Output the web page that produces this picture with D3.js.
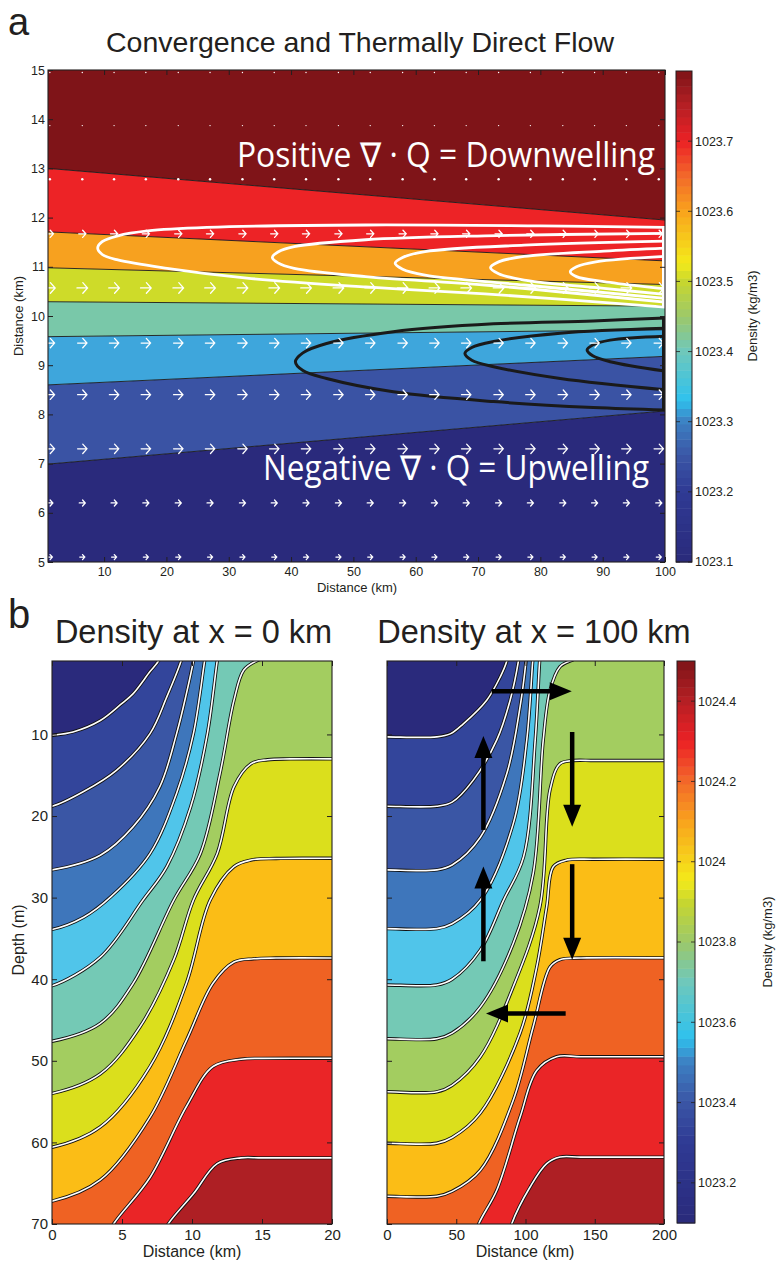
<!DOCTYPE html>
<html><head><meta charset="utf-8">
<script src="https://cdn.jsdelivr.net/npm/d3@7"></script>
<style>body{margin:0;background:#fff}svg text{font-family:"Liberation Sans",Arial,sans-serif}</style>
</head><body><svg id="c" width="782" height="1262"></svg>
<script>
// ---------------- DATA ----------------
// Panel a: band boundaries (km) at x=1 km and x=100 km, bottom to top
const aBoundLeft  = [6.99, 8.60, 9.58, 10.29, 10.98, 11.71, 13.00];
const aBoundRight = [8.07, 9.18, 9.72, 10.20, 10.64, 11.12, 11.95];
const aBandColors = ["#2a2a7c","#3a53a4","#3ea6dc","#79c8a9","#cedb29","#f7a11f","#ed2326","#7f1418"];
// quiver grid
const aQuiverX = [1.3,6.5,11.6,16.7,21.9,27.0,32.2,37.3,42.4,47.6,52.7,57.9,63.0,68.1,73.3,78.4,83.6,88.7,93.8,99.0];
const aQuiverY = [5.1,6.2,7.3,8.4,9.45,10.57,11.67,12.78,13.87,14.95];
const aQuiverU = [0.8,0.96,1.5,1.5,1.5,1.7,1.15,0.15,0.04,0.04];
// convergence streamlines (white) and divergence streamlines (black), [x km, y km]
const aWhiteCurves = [
  [[100,11.80],[80,11.83],[52,11.85],[26.5,11.80],[17,11.73],[12.2,11.63],[9.7,11.51],[8.97,11.38],[9.7,11.25],[12.2,11.14],[20.1,10.97],[32.9,10.77],[52,10.59],[71.1,10.45],[100,10.18]],
  [[100,11.68],[71.1,11.63],[52,11.55],[40.5,11.41],[37.9,11.30],[37.0,11.19],[37.9,11.08],[40.5,10.97],[52,10.80],[71.1,10.63],[100,10.28]],
  [[100,11.52],[77.4,11.44],[61.5,11.31],[57.9,11.19],[56.7,11.07],[57.9,10.95],[61.5,10.83],[77.4,10.63],[100,10.36]],
  [[100,11.38],[90.2,11.32],[77.4,11.21],[73.3,11.10],[72.0,10.98],[73.3,10.86],[77.4,10.73],[90.2,10.56],[100,10.44]],
  [[100,11.21],[88.9,11.10],[85.8,11.00],[84.8,10.90],[85.8,10.80],[90.2,10.70],[100,10.55]]
];
const aBlackCurves = [
  [[100,9.96],[88.5,9.90],[72.5,9.84],[56.4,9.68],[45.7,9.44],[41.9,9.25],[40.7,9.07],[41.9,8.89],[45.7,8.73],[56.4,8.46],[72.5,8.26],[88.5,8.14],[100,8.09]],
  [[100,9.75],[83.2,9.65],[72.5,9.48],[69.0,9.36],[67.9,9.24],[69.0,9.10],[72.5,8.97],[83.2,8.73],[100,8.50]],
  [[100,9.59],[91.2,9.51],[88.4,9.41],[87.5,9.31],[88.4,9.19],[91.2,9.07],[100,8.88]]
];
const aWhiteEdge = [11.80, 10.18];
const aBlackEdge = [9.98, 8.07];
const aXTicks = [10,20,30,40,50,60,70,80,90,100];
const aYTicks = [5,6,7,8,9,10,11,12,13,14,15];
const aCbTicks = [1023.1,1023.2,1023.3,1023.4,1023.5,1023.6,1023.7];
const aCbDomain = [1023.1, 1023.8];

// colormap (normalised position, colour)
const cmapPos = [0,0.143,0.214,0.286,0.33,0.43,0.5,0.57,0.61,0.71,0.79,0.857,0.93,1];
const cmapCol = ["#2a2a7b","#2f3a94","#3a55a5","#3d7fc2","#2fc2ee","#6fc8bb","#9cc86a","#c6d630","#f4ea1a","#f9a71c","#f2652a","#ec2125","#b51f24","#7e1418"];

// Panel b: isopycnals [distance km, depth m]; left = x=0 km section, right = x=100 km section
const bBandColors = ["#2a2a7c","#33459b","#3a56a5","#3e76bb","#50c5ea","#74c9b5","#a3cd60","#dbdf1c","#fbbd16","#ef6223","#ea2527","#ae1f24"];
const bLeftContours = [
  [[-1,10.2],[0,10.1],[1.5,9.7],[3.45,8.3],[5,6.2],[5.8,5.0],[7,2.3],[7.6,1.0],[7.9,-0.5]],
  [[-1,18.9],[0,18.8],[2.26,17.0],[4.6,14.4],[7.0,9.9],[8.2,5.4],[9.2,1.1],[9.45,-0.5]],
  [[-1,26.7],[0,26.6],[3.45,24.8],[5.8,21.3],[7.7,16.4],[8.9,9.9],[9.6,5.0],[10.1,1.0],[10.25,-0.5]],
  [[-1,34.0],[0,33.9],[2.26,32.4],[4.2,29.9],[7.0,24.6],[8.9,17.2],[10.1,9.9],[10.9,1.0],[11.05,-0.5]],
  [[-1,40.9],[0,40.8],[3.45,37.3],[6.5,30.3],[8.2,26.2],[9.9,18.9],[11.1,9.9],[11.8,1.0],[11.95,-0.5]],
  [[-1,47.7],[0,47.6],[3.45,45.4],[5.8,40.5],[8.7,30.3],[10.6,24.6],[12.0,14.8],[13.0,5.8],[13.7,2.1],[14.6,1.0],[15.5,0.5],[21,0.3]],
  [[-1,54.1],[0,54.0],[3.45,51.6],[6.3,45.8],[8.7,37.6],[10.1,30.3],[11.8,24.6],[13.0,16.4],[14.2,13.6],[15.4,13.1],[17,13.0],[21,13.0]],
  [[-1,60.7],[0,60.6],[3.45,58.1],[7.0,50.7],[9.6,40.5],[11.3,30.3],[13.0,26.2],[14.2,25.4],[16,25.2],[21,25.2]],
  [[-1,67.3],[0,67.2],[3.45,64.6],[7.0,56.9],[9.6,47.5],[11.5,40.5],[13.0,37.9],[14.4,37.5],[16,37.4],[21,37.4]],
  [[4.0,71.5],[4.4,70],[7.0,64.3],[9.6,55.6],[11.5,50.7],[13.5,49.8],[15,49.7],[21,49.7]],
  [[7.9,71.5],[8.3,70],[10.1,66.3],[11.8,62.6],[13.5,61.9],[15,61.9],[21,61.9]]
];
const bRightContours = [
  [[-10,10.3],[0,10.3],[36,10.3],[46,9.9],[55.1,8.7],[72,5.8],[81.6,3.0],[86.5,1.0],[88,-0.5]],
  [[-10,18.8],[0,18.8],[36,18.8],[47,18.3],[62.3,15.6],[79.2,10.7],[88.9,5.8],[94.9,1.0],[96,-0.5]],
  [[-10,26.6],[0,26.6],[36,26.6],[47,26.0],[67.4,22.6],[86.5,14.8],[96.1,6.6],[100.4,1.0],[101.2,-0.5]],
  [[-10,33.8],[0,33.8],[36,33.8],[47,33.2],[67.4,30.3],[91.2,20.9],[100.9,10.7],[105.2,1.0],[106,-0.5]],
  [[-10,40.7],[0,40.7],[36,40.7],[47,40.0],[67.4,36.4],[84.2,30.3],[98.6,25.0],[107,10.7],[110.2,1.0],[111,-0.5]],
  [[-10,47.3],[0,47.3],[36,47.3],[47,46.6],[67.4,43.4],[91.2,35.6],[105.6,27.0],[112.8,10.7],[117.7,4.6],[124.9,1.7],[133.6,0.9],[140,0.5],[210,0.4]],
  [[-10,53.8],[0,53.8],[36,53.8],[47,53.0],[67.4,49.5],[91.2,40.9],[110.4,31.1],[117.7,16.8],[124.9,13.6],[134.5,13.2],[150,13.2],[210,13.2]],
  [[-10,60.1],[0,60.1],[36,60.1],[47,59.4],[67.4,56.4],[96.1,46.6],[108.1,38.5],[115.3,31.1],[120.1,26.2],[129.7,25.4],[150,25.3],[210,25.3]],
  [[-10,66.6],[0,66.6],[36,66.6],[47,66.0],[67.4,63.4],[91.2,54.8],[105.6,45.8],[117.7,38.5],[124.9,37.6],[140,37.4],[210,37.4]],
  [[63,72],[66.2,70],[79.4,65.8],[96.1,56.9],[108.1,51.2],[122.5,49.5],[140,49.5],[210,49.5]],
  [[87,72],[90,70],[103.2,65.5],[115.3,62.6],[124.9,61.8],[140,61.8],[210,61.8]]
];
const bArrows = [
  {x0:75.6, y0:4.7,  x1:133.4, y1:4.7},
  {x0:133.7,y0:9.7,  x1:133.7, y1:21.3},
  {x0:133.7,y0:25.9, x1:133.7, y1:37.6},
  {x0:69.6, y0:21.7, x1:69.6,  y1:10.2},
  {x0:69.6, y0:37.8, x1:69.6,  y1:26.2},
  {x0:129,  y0:44.2, x1:71.5,  y1:44.2}
];
const bDepthTicks = [10,20,30,40,50,60,70];
const bLeftXTicks = [0,5,10,15,20];
const bRightXTicks = [0,50,100,150,200];
const bCbTicks = [1023.2,1023.4,1023.6,1023.8,1024,1024.2,1024.4];
const bCbDomain = [1023.1, 1024.5];

// ---------------- DRAWING ----------------
const svg = d3.select("#c");
const cmap = d3.scaleLinear().domain(cmapPos).range(cmapCol).interpolate(d3.interpolateRgb);
const ink = "#231f20";

function axes(g, x, y, xt, yt, opt) {
  const x0 = Math.min(...x.range()), x1 = Math.max(...x.range());
  const yb = Math.max(...y.range()), yt0 = Math.min(...y.range());
  const fs = opt.fs;
  const bx = g.append("g").attr("transform",`translate(0,${yb})`)
    .call(d3.axisBottom(x).tickValues(xt).tickSize(-opt.tl).tickPadding(opt.padX).tickFormat(opt.showX?d3.format(""):""));
  const tx = g.append("g").attr("transform",`translate(0,${yt0})`)
    .call(d3.axisTop(x).tickValues(xt).tickSize(-opt.tl).tickFormat(""));
  const ly = g.append("g").attr("transform",`translate(${x0},0)`)
    .call(d3.axisLeft(y).tickValues(yt).tickSize(-opt.tl).tickPadding(opt.padY).tickFormat(opt.showY?d3.format(""):""));
  const ry = g.append("g").attr("transform",`translate(${x1},0)`)
    .call(d3.axisRight(y).tickValues(yt).tickSize(-opt.tl).tickFormat(""));
  [bx,tx,ly,ry].forEach(a=>{
    a.select(".domain").remove();
    a.attr("font-family",null).attr("font-size",null);
    a.selectAll("line").attr("stroke",ink);
    a.selectAll("text").attr("fill",ink).style("font-size",fs+"px");
  });
  g.append("rect").attr("x",x0).attr("y",yt0).attr("width",x1-x0).attr("height",yb-yt0)
    .attr("fill","none").attr("stroke",ink).attr("stroke-width",1.1);
}

function colorbar(g, v, domain, ticks, x0, w, fs, n) {
  const [lo,hi] = domain;
  for (let k=0;k<n;k++){
    const a = lo + (hi-lo)*k/n, b = lo + (hi-lo)*(k+1)/n;
    g.append("rect").attr("x",x0).attr("width",w).attr("y",v(b)).attr("height",v(a)-v(b)+0.5)
      .attr("fill",cmap((k+0.5)/n));
  }
  g.append("rect").attr("x",x0).attr("width",w).attr("y",v(hi)).attr("height",v(lo)-v(hi))
    .attr("fill","none").attr("stroke",ink).attr("stroke-width",1);
  ticks.forEach(t=>{
    g.append("line").attr("x1",x0).attr("x2",x0+4).attr("y1",v(t)).attr("y2",v(t)).attr("stroke",ink).attr("stroke-width",0.8);
    g.append("line").attr("x1",x0+w-4).attr("x2",x0+w).attr("y1",v(t)).attr("y2",v(t)).attr("stroke",ink).attr("stroke-width",0.8);
    g.append("text").attr("x",x0+w+3).attr("y",v(t)).attr("dy","0.35em").attr("fill",ink)
      .style("font-size",fs+"px").text(String(+t.toFixed(1)));
  });
}

// ===== Panel a =====
const xA = d3.scaleLinear([1,100],[48,665]);
const yA = d3.scaleLinear([5,15],[562,70]);
const gA = svg.append("g");
svg.append("clipPath").attr("id","clipA").append("rect").attr("x",48).attr("y",70).attr("width",617).attr("height",492);
const pA = gA.append("g").attr("clip-path","url(#clipA)");
const lowL=[5,...aBoundLeft], lowR=[5,...aBoundRight], hiL=[...aBoundLeft,15], hiR=[...aBoundRight,15];
aBandColors.forEach((c,i)=>{
  pA.append("path").attr("fill",c)
    .attr("d",d3.line()([[xA(1),yA(lowL[i])],[xA(100),yA(lowR[i])],[xA(100),yA(hiR[i])],[xA(1),yA(hiL[i])]])+"Z");
});
aBoundLeft.forEach((v,i)=>{
  pA.append("line").attr("x1",xA(1)).attr("y1",yA(v)).attr("x2",xA(100)).attr("y2",yA(aBoundRight[i]))
    .attr("stroke","#1a1a1a").attr("stroke-width",0.9);
});
// quiver
const gQ = gA.append("g").attr("stroke","#fff").attr("fill","none").attr("stroke-width",1.3).attr("stroke-linecap","round");
aQuiverY.forEach((yy,r)=>{
  const u = aQuiverU[r];
  aQuiverX.forEach(xx=>{
    const L = xA(xx+u)-xA(xx);
    const cx = xA(xx), cy = yA(yy);
    const t0 = cx-L/2, t1 = cx+L/2;
    if (L < 2) {
      gQ.append("circle").attr("cx",cx).attr("cy",cy).attr("r",Math.max(0.7,L*0.9+0.4)).attr("fill","#fff").attr("stroke","none");
    } else {
      const hl = 0.45*L, hw = 0.5*L;
      gQ.append("path").attr("d",`M${t0},${cy}L${t1},${cy}M${t1-hl},${cy-hw}L${t1},${cy}L${t1-hl},${cy+hw}`);
    }
  });
});
// streamlines
const lineA = d3.line().x(d=>xA(d[0])).y(d=>yA(d[1])).curve(d3.curveCatmullRom.alpha(0.5));
aWhiteCurves.forEach(c=> pA.append("path").attr("d",lineA(c)).attr("fill","none").attr("stroke","#fff").attr("stroke-width",2.8));
aBlackCurves.forEach(c=> pA.append("path").attr("d",lineA(c)).attr("fill","none").attr("stroke","#1a1a1a").attr("stroke-width",3));
gA.append("line").attr("x1",xA(100)-1.5).attr("x2",xA(100)-1.5).attr("y1",yA(aWhiteEdge[0])).attr("y2",yA(aWhiteEdge[1])).attr("stroke","#fff").attr("stroke-width",3);
gA.append("line").attr("x1",xA(100)-1.5).attr("x2",xA(100)-1.5).attr("y1",yA(aBlackEdge[0])).attr("y2",yA(aBlackEdge[1])).attr("stroke","#1a1a1a").attr("stroke-width",3);
// annotations
gA.append("text").attr("x",237).attr("y",167).attr("fill","#fff").attr("textLength",418).attr("lengthAdjust","spacingAndGlyphs")
  .style("font-family","'Open Sans',sans-serif").style("font-size","34px").text("Positive ∇ · Q = Downwelling");
gA.append("text").attr("x",263).attr("y",480).attr("fill","#fff").attr("textLength",386).attr("lengthAdjust","spacingAndGlyphs")
  .style("font-family","'Open Sans',sans-serif").style("font-size","34px").text("Negative ∇ · Q = Upwelling");
axes(gA, xA, yA, aXTicks, aYTicks, {fs:12.5, tl:5, padX:5, padY:3, showX:true, showY:true});
gA.append("text").attr("x",357).attr("y",592).attr("text-anchor","middle").attr("fill",ink).style("font-size","13px").text("Distance (km)");
gA.append("text").attr("transform","translate(23,316) rotate(-90)").attr("text-anchor","middle").attr("fill",ink).style("font-size","13px").text("Distance (km)");
gA.append("text").attr("x",360).attr("y",52).attr("text-anchor","middle").attr("fill",ink).style("font-size","28.5px").text("Convergence and Thermally Direct Flow");
svg.append("text").attr("x",8).attr("y",35).attr("fill",ink).style("font-size","38px").text("a");
// colorbar a
const vA = d3.scaleLinear(aCbDomain,[562,71]);
colorbar(gA, vA, aCbDomain, aCbTicks, 676, 16, 12.5, 64);
gA.append("text").attr("transform","translate(757,316) rotate(-90)").attr("text-anchor","middle").attr("fill",ink).style("font-size","13px").text("Density (kg/m3)");

// ===== Panel b =====
const yB = d3.scaleLinear([1,70],[661,1224]);
const xBL = d3.scaleLinear([0,20],[52,332]);
const xBR = d3.scaleLinear([0,200],[387,664]);
function section(id, x, contours) {
  const g = svg.append("g");
  const [x0,x1] = x.range();
  svg.append("clipPath").attr("id",id).append("rect").attr("x",x0).attr("y",661).attr("width",x1-x0).attr("height",563);
  const p = g.append("g").attr("clip-path",`url(#${id})`);
  p.append("rect").attr("x",x0).attr("y",661).attr("width",x1-x0).attr("height",563).attr("fill",bBandColors[0]);
  const ln = d3.line().x(d=>x(d[0])).y(d=>yB(d[1])).curve(d3.curveCatmullRom.alpha(0.5));
  contours.forEach((c,i)=>{
    const last = c[c.length-1];
    p.append("path").attr("fill",bBandColors[i+1])
      .attr("d", ln(c) + `L2000,${yB(last[1])}L2000,2000L-2000,2000Z`);
  });
  contours.forEach(c=>{
    p.append("path").attr("d",ln(c)).attr("fill","none").attr("stroke","#111").attr("stroke-width",3.4);
    p.append("path").attr("d",ln(c)).attr("fill","none").attr("stroke","#fff").attr("stroke-width",1.6);
  });
  return g;
}
const gBL = section("clipBL", xBL, bLeftContours);
axes(gBL, xBL, yB, bLeftXTicks, bDepthTicks, {fs:15, tl:5, padX:5, padY:4, showX:true, showY:true});
const gBR = section("clipBR", xBR, bRightContours);
// arrows
bArrows.forEach(a=>{
  const X0=xBR(a.x0), Y0=yB(a.y0), X1=xBR(a.x1), Y1=yB(a.y1);
  const len = Math.hypot(X1-X0,Y1-Y0), ux=(X1-X0)/len, uy=(Y1-Y0)/len;
  const hl=22, hw=9;
  const bx=X1-ux*hl, by=Y1-uy*hl;
  gBR.append("line").attr("x1",X0).attr("y1",Y0).attr("x2",bx+ux*2).attr("y2",by+uy*2).attr("stroke","#000").attr("stroke-width",4.5);
  gBR.append("path").attr("fill","#000")
    .attr("d",`M${X1},${Y1}L${bx-uy*hw},${by+ux*hw}L${bx+uy*hw},${by-ux*hw}Z`);
});
axes(gBR, xBR, yB, bRightXTicks, bDepthTicks, {fs:15, tl:5, padX:5, padY:4, showX:true, showY:false});
svg.append("text").attr("x",192).attr("y",1257).attr("text-anchor","middle").attr("fill",ink).style("font-size","16px").text("Distance (km)");
svg.append("text").attr("x",525).attr("y",1257).attr("text-anchor","middle").attr("fill",ink).style("font-size","16px").text("Distance (km)");
svg.append("text").attr("transform","translate(24,940) rotate(-90)").attr("text-anchor","middle").attr("fill",ink).style("font-size","16px").text("Depth (m)");
svg.append("text").attr("x",193.5).attr("y",643).attr("text-anchor","middle").attr("fill",ink).style("font-size","32.5px").text("Density at x = 0 km");
svg.append("text").attr("x",534).attr("y",643).attr("text-anchor","middle").attr("fill",ink).style("font-size","32.5px").text("Density at x = 100 km");
svg.append("text").attr("x",8).attr("y",628).attr("fill",ink).style("font-size","40px").text("b");
const vB = d3.scaleLinear(bCbDomain,[1223,661]);
colorbar(svg.append("g"), vB, bCbDomain, bCbTicks, 677, 18, 12.5, 64);
svg.append("text").attr("transform","translate(772,942) rotate(-90)").attr("text-anchor","middle").attr("fill",ink).style("font-size","13px").text("Density (kg/m3)");
</script></body></html>
